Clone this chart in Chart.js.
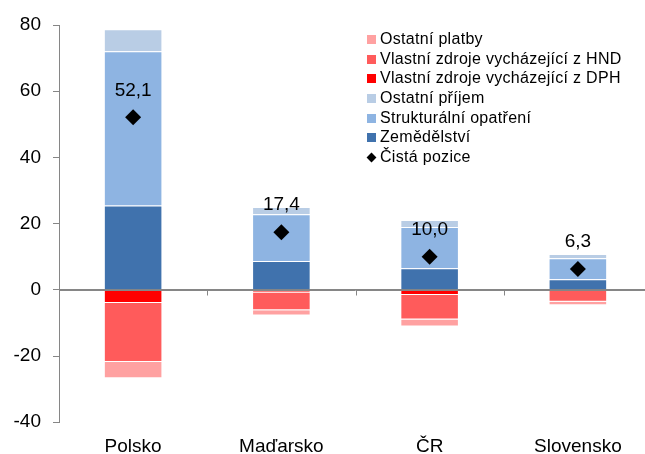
<!DOCTYPE html>
<html>
<head>
<meta charset="utf-8">
<script src="https://cdn.jsdelivr.net/npm/chart.js@4/dist/chart.umd.min.js"></script>
<style>
    html, body { margin: 0; padding: 0; background: #fff; overflow: hidden; width: 645px; height: 454px; }
    #wrap { position: absolute; left: 0; top: 0; width: 660px; height: 471px; }
    #legend { position: absolute; left: 367px; top: 29px; font-family: "Liberation Sans", Arial, sans-serif; font-size: 16px; letter-spacing: 0.3px; color: #000; }
    #legend div { height: 19.7px; line-height: 19.7px; white-space: nowrap; }
    #legend span.box { display: inline-block; width: 9px; height: 9px; margin-right: 4px; vertical-align: 0px; }
    #legend span.dia { display: inline-block; width: 7px; height: 7px; background: #000; transform: rotate(45deg); margin: 0 5px 0 1px; vertical-align: 1px; }
</style>
</head>
<body>
<div id="wrap">
    <canvas id="chart" width="660" height="471"></canvas>
</div>
<div id="legend"></div>
<script>
const countries = ['Polsko', 'Maďarsko', 'ČR', 'Slovensko'];

const zemedelstvi = [25.5, 8.7, 6.5, 3.2];
const strukturalni = [46.6, 14.1, 12.5, 6.3];
const ostatniPrijem = [6.6, 2.2, 2.1, 1.3];
const zdrojeDPH = [-4.0, -0.8, -1.6, -0.2];
const zdrojeHND = [-17.8, -5.4, -7.4, -3.4];
const ostatniPlatby = [-4.9, -1.6, -2.1, -1.1];
const cistaPozice = [52.1, 17.4, 10.0, 6.3];

const yTicks = [-40, -20, 0, 20, 40, 60, 80];

const font = '"Liberation Sans", Arial, sans-serif';
const axisGrey = '#868686';

function bar(label, data, color) {
    return {
        type: 'bar',
        label,
        data,
        backgroundColor: color,
        borderColor: 'rgba(255,255,255,0.2)',
        borderWidth: 1,
        categoryPercentage: 1,
        barPercentage: 0.395,
        order: 1
    };
}

// stacking goes by dataset order: first ones sit closest to zero
const datasets = [
    bar('Zemědělství', zemedelstvi, '#4072AD'),
    bar('Strukturální opatření', strukturalni, '#8EB4E2'),
    bar('Ostatní příjem', ostatniPrijem, '#B9CDE5'),
    bar('Vlastní zdroje vycházející z DPH', zdrojeDPH, '#FF0000'),
    bar('Vlastní zdroje vycházející z HND', zdrojeHND, '#FF5B5B'),
    bar('Ostatní platby', ostatniPlatby, '#FFA1A1'),
    {
        type: 'line',
        label: 'Čistá pozice',
        data: cistaPozice,
        stack: 'net',
        showLine: false,
        pointStyle: 'rectRot',
        pointRadius: 8,
        pointBackgroundColor: '#000',
        pointBorderColor: '#000',
        pointBorderWidth: 0,
        order: 0
    }
];

// zero line over the bars, category ticks on it, net values above the diamonds
const extras = {
    id: 'extras',
    afterDatasetsDraw(chart) {
        const ctx = chart.ctx;
        const x = chart.scales.x, y = chart.scales.y;
        const meta = chart.getDatasetMeta(datasets.length - 1);

        ctx.save();
        ctx.strokeStyle = axisGrey;
        ctx.lineWidth = 1;
        const y0 = Math.round(y.getPixelForValue(0)) + 0.5;
        ctx.beginPath();
        ctx.moveTo(chart.chartArea.left, y0);
        ctx.lineTo(chart.chartArea.right, y0);
        ctx.stroke();
        for (let i = 1; i <= countries.length; i++) {
            const xb = Math.round((x.getPixelForValue(i - 1) + x.getPixelForValue(i)) / 2) + 0.5;
            ctx.beginPath();
            ctx.moveTo(xb, y0);
            ctx.lineTo(xb, y0 + 5);
            ctx.stroke();
        }

        ctx.fillStyle = '#000';
        ctx.font = '19px ' + font;
        ctx.textAlign = 'center';
        ctx.textBaseline = 'middle';
        meta.data.forEach((pt, i) => {
            ctx.fillText(cistaPozice[i].toFixed(1).replace('.', ','), pt.x, pt.y - 27);
        });
        ctx.restore();
    }
};

new Chart(document.getElementById('chart'), {
    data: { labels: countries, datasets },
    options: {
        responsive: false,
        animation: false,
        layout: { padding: { top: 25, right: 3, left: 0, bottom: 0 } },
        plugins: {
            legend: { display: false },
            tooltip: { enabled: false }
        },
        scales: {
            x: {
                stacked: true,
                grid: { display: false, drawTicks: false },
                border: { display: false },
                ticks: { color: '#000', font: { family: font, size: 19 }, padding: 13, maxRotation: 0 }
            },
            y: {
                stacked: true,
                min: -40,
                max: 80,
                afterBuildTicks: s => { s.ticks = yTicks.map(v => ({ value: v })); },
                afterFit: s => { s.width = 59; },
                grid: {
                    color: c => (c.tick && c.tick.value === 0 ? axisGrey : 'transparent'),
                    tickColor: axisGrey,
                    tickLength: 6,
                    lineWidth: 1
                },
                border: { display: true, color: axisGrey, width: 1 },
                ticks: { color: '#000', font: { family: font, size: 19 }, padding: 12 }
            }
        }
    },
    plugins: [extras]
});

const legendRows = [
    ['Ostatní platby', '#FFA1A1'],
    ['Vlastní zdroje vycházející z HND', '#FF5B5B'],
    ['Vlastní zdroje vycházející z DPH', '#FF0000'],
    ['Ostatní příjem', '#B9CDE5'],
    ['Strukturální opatření', '#8EB4E2'],
    ['Zemědělství', '#4072AD'],
    ['Čistá pozice', null]
];
document.getElementById('legend').innerHTML = legendRows.map(r =>
    '<div>' + (r[1] ? '<span class="box" style="background:' + r[1] + '"></span>' : '<span class="dia"></span>') + r[0] + '</div>'
).join('');
</script>
</body>
</html>
